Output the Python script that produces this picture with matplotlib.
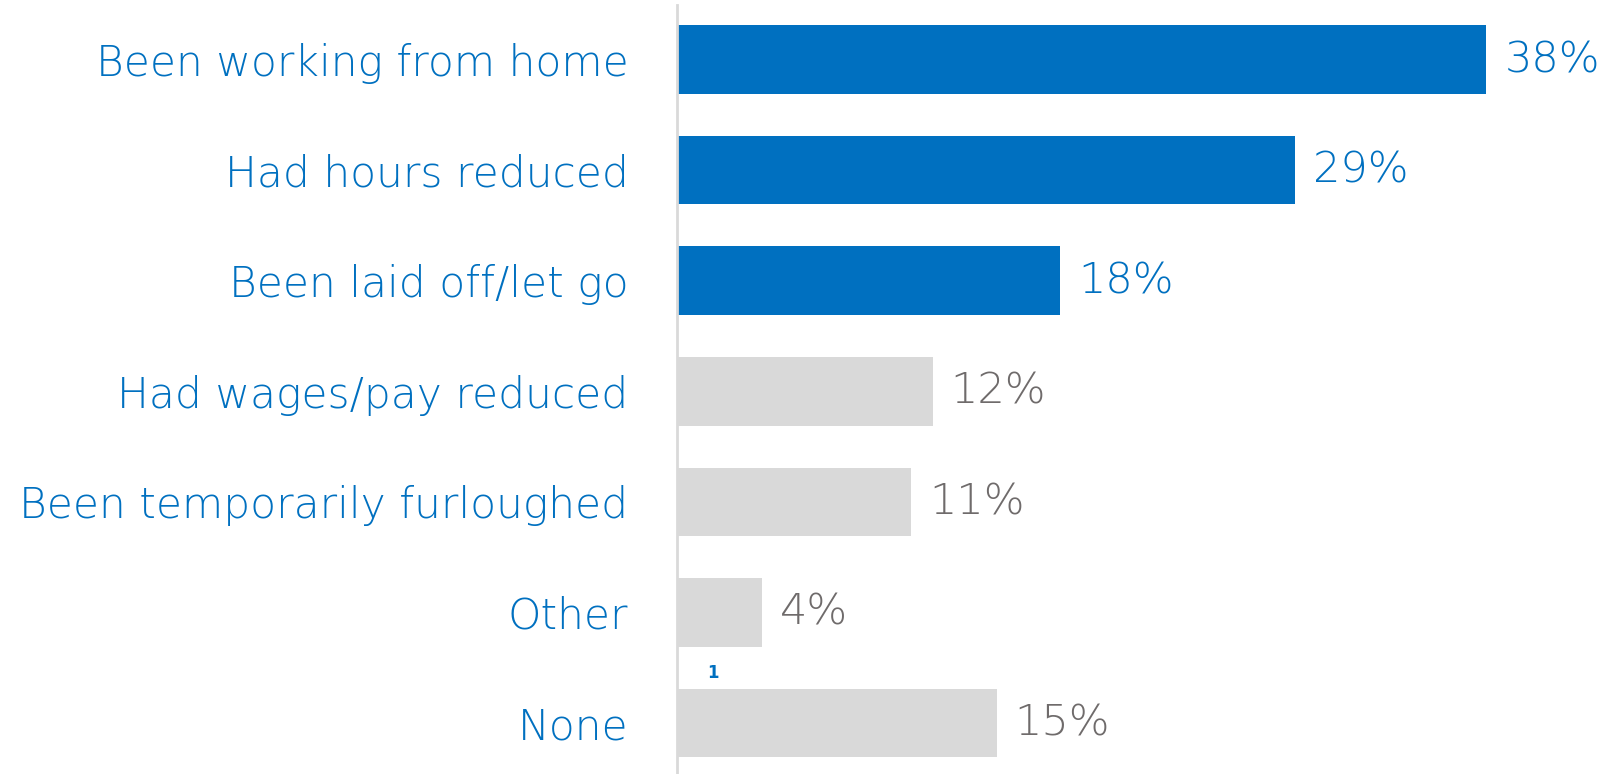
import matplotlib.pyplot as plt

categories = ['Been working from home', 'Had hours reduced', 'Been laid off/let go',
              'Had wages/pay reduced', 'Been temporarily furloughed', 'Other', 'None']
values = [38, 29, 18, 12, 11, 4, 15]
highlight = [True, True, True, False, False, False, False]

blue = '#0070C0'
grey = '#D9D9D9'
text_grey = '#6F6B6B'

plt.rcParams['font.family'] = ['DejaVu Sans']

fig = plt.figure(figsize=(16.1, 7.74), dpi=100)
ax = fig.add_axes([677 / 1610, 0, 1 - 677 / 1610, 769 / 774])

ypos = list(range(len(categories)))
colors = [blue if h else grey for h in highlight]
ax.barh(ypos, values, height=0.62, color=colors)

for y, v, h in zip(ypos, values, highlight):
    ax.text(v + 0.85, y, f'{v}%', va='center', ha='left', fontsize=31,
            fontweight='light', color=blue if h else text_grey)

# footnote marker above the None bar
ax.text(1.7, 5.55, '1', color=blue, fontsize=12, fontweight='bold',
        ha='center', va='center')

ax.set_xlim(0, 933 / 21.3)
ax.set_ylim(6.462, -0.494)
ax.set_yticks(ypos)
ax.set_yticklabels(categories, fontsize=30.5, color=blue, fontweight='light')
ax.tick_params(axis='y', length=0, pad=35)
ax.set_xticks([])
for s in ['top', 'right', 'bottom']:
    ax.spines[s].set_visible(False)
ax.spines['left'].set_color(grey)
ax.spines['left'].set_linewidth(2)

fig.savefig('out.png', dpi=100)
